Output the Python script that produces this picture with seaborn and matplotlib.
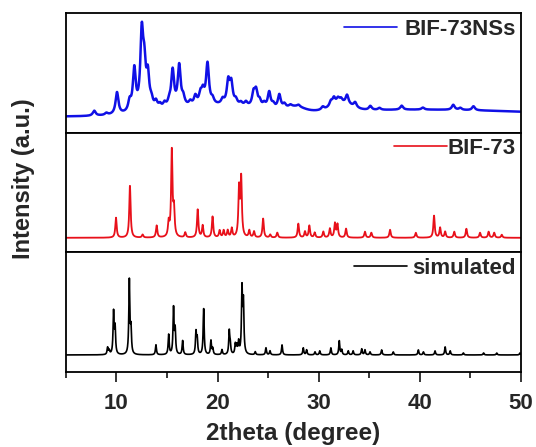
import numpy as np
import pandas as pd
import matplotlib
matplotlib.use("Agg")
import matplotlib.pyplot as plt
import seaborn as sns
from matplotlib.ticker import MultipleLocator

# Peak lists (position in 2theta, height above baseline, half width)
ns_pos = [7.8, 9.0, 10.05, 11.3, 11.76, 12.5, 12.75, 13.1, 13.45, 13.9, 14.3, 14.75, 15.2,
          15.55, 16.2, 16.6, 17.3, 17.8, 18.3, 18.55, 19.0, 19.5, 20.5, 21.05, 21.35, 21.8,
          22.3, 22.8, 23.55, 23.8, 24.15, 24.6, 25.1, 25.5, 26.1, 26.6, 27.2, 28.0, 30.4,
          31.2, 31.5, 31.9, 32.2, 32.8, 33.6, 35.1, 36.0, 38.2, 40.3, 43.3, 44.0, 45.3]
ns_height = [5, 2, 22, 10, 42, 74, 38, 32, 8, 7, 4, 5, 5,
             37, 41, 8, 4, 9, 10, 12, 41, 5, 5, 23, 21, 5,
             3, 4, 13, 15, 6, 4, 16, 4, 14, 4, 2, 2, 3,
             5, 7, 5, 4, 9, 5, 4, 2, 4, 2, 5, 2, 4]
ns_hw = 0.17
ns_base = 16
ns_hump_pos = [19.5, 27.7, 32.3, 40.0]
ns_hump_height = [9, 4, 7, 7]
ns_hump_sigma = [4.5, 0.8, 1.0, 12.0]

bif_pos = [9.95, 11.33, 12.58, 13.97, 15.16, 15.47, 15.68, 16.8, 18.03, 18.52, 19.5, 20.2,
           20.6, 21.0, 21.4, 22.12, 22.33, 23.13, 23.6, 24.5, 25.2, 25.9, 27.98, 28.64,
           29.07, 29.6, 30.45, 31.1, 31.6, 31.85, 32.7, 34.57, 35.2, 37.05, 39.6, 41.4,
           42.0, 42.5, 43.4, 44.6, 45.95, 46.8, 47.35, 48.1]
bif_height = [20, 52, 3, 12, 14, 86, 26, 5, 28, 12, 21, 7,
              7, 7, 9, 48, 58, 7, 6, 19, 3, 5, 14, 6,
              12, 5, 6, 9, 14, 13, 9, 6, 5, 8, 5, 22,
              10, 6, 6, 9, 5, 6, 5, 3]
bif_hw = 0.08
bif_base = 14.5

sim_pos = [9.12, 9.28, 9.71, 9.86, 11.27, 11.43, 13.9, 15.16, 15.64, 15.8, 16.54, 17.86,
           17.98, 18.62, 19.34, 19.52, 20.43, 21.15, 21.25, 21.75, 21.9, 22.08, 22.41, 22.55,
           23.72, 24.78, 25.18, 26.37, 28.47, 28.8, 29.63, 30.1, 31.2, 32.03, 32.27, 32.92,
           33.4, 34.25, 34.57, 35.07, 36.22, 37.37, 39.85, 40.35, 41.5, 42.5, 43.0, 44.3,
           46.3, 47.6, 49.9]
sim_height = [7, 4, 42, 26, 74, 24, 10, 20, 46, 24, 14, 22,
              15, 46, 14, 6, 5, 23, 9, 10, 8, 12, 64, 50,
              3, 7, 4, 10, 7, 5, 3, 4, 7, 14, 5, 4,
              4, 6, 5, 3, 5, 3, 5, 3, 4, 8, 4, 2,
              2, 2, 2]
sim_hw = 0.06
sim_base = 17

labels = ["BIF-73NSs", "BIF-73", "simulated"]
colors = ["#1010e6", "#e8101a", "black"]

two_theta = np.arange(5, 50.005, 0.01)


def pattern(pos, height, hw, base, hump_pos=(), hump_height=(), hump_sigma=()):
    y = np.full_like(two_theta, float(base))
    for c, h in zip(pos, height):
        y += h / (1 + ((two_theta - c) / hw) ** 2)
    for c, h, s in zip(hump_pos, hump_height, hump_sigma):
        y += h * np.exp(-0.5 * ((two_theta - c) / s) ** 2)
    return y


curves = [
    pattern(ns_pos, ns_height, ns_hw, ns_base, ns_hump_pos, ns_hump_height, ns_hump_sigma),
    pattern(bif_pos, bif_height, bif_hw, bif_base),
    pattern(sim_pos, sim_height, sim_hw, sim_base),
]

sns.set_style("ticks")
plt.rcParams['font.family'] = ['Liberation Sans', 'DejaVu Sans']
plt.rcParams['font.weight'] = 'bold'

fig, axes = plt.subplots(3, 1, figsize=(5.36, 4.47), dpi=100, sharex=True)
fig.subplots_adjust(left=0.123, right=0.972, bottom=0.168, top=0.971, hspace=0)

lws = [1.8, 1.3, 1.2]
handle_pads = [0.3, 0.0, 0.2]
for ax, y, lab, col, lw, hp in zip(axes, curves, labels, colors, lws, handle_pads):
    df = pd.DataFrame({"two_theta": two_theta, "intensity": y})
    sns.lineplot(data=df, x="two_theta", y="intensity", ax=ax, color=col, lw=lw,
                 label=lab, estimator=None)
    ax.set_ylim(0, 120)
    ax.set_xlim(5, 50)
    ax.set_yticks([])
    ax.set_ylabel("")
    ax.set_xlabel("")
    for sp in ax.spines.values():
        sp.set_linewidth(1.3)
        sp.set_color("black")
    leg = ax.legend(loc="upper right", frameon=False, fontsize=16, handlelength=2.4,
                    handletextpad=hp, borderaxespad=0.1, borderpad=0.15)
    for t in leg.get_texts():
        t.set_fontweight("bold")
    for h in leg.legend_handles:
        h.set_linewidth(1.2)
    ax.tick_params(axis="x", which="both", bottom=False, labelbottom=False)

bottom = axes[2]
bottom.xaxis.set_major_locator(MultipleLocator(10))
bottom.xaxis.set_minor_locator(MultipleLocator(5))
bottom.tick_params(axis="x", which="major", bottom=True, labelbottom=True, direction="out",
                   length=7, width=1.3, labelsize=16, pad=8)
bottom.tick_params(axis="x", which="minor", bottom=True, direction="out", length=4, width=1.3)
for t in bottom.get_xticklabels():
    t.set_fontweight("bold")
bottom.set_xlabel("2theta (degree)", fontsize=17.5, fontweight="bold", labelpad=6)

fig.text(0.043, 0.6, "Intensity (a.u.)", rotation=90, ha="center", va="center",
         fontsize=17, fontweight="bold")

fig.savefig("out.png", dpi=100)
